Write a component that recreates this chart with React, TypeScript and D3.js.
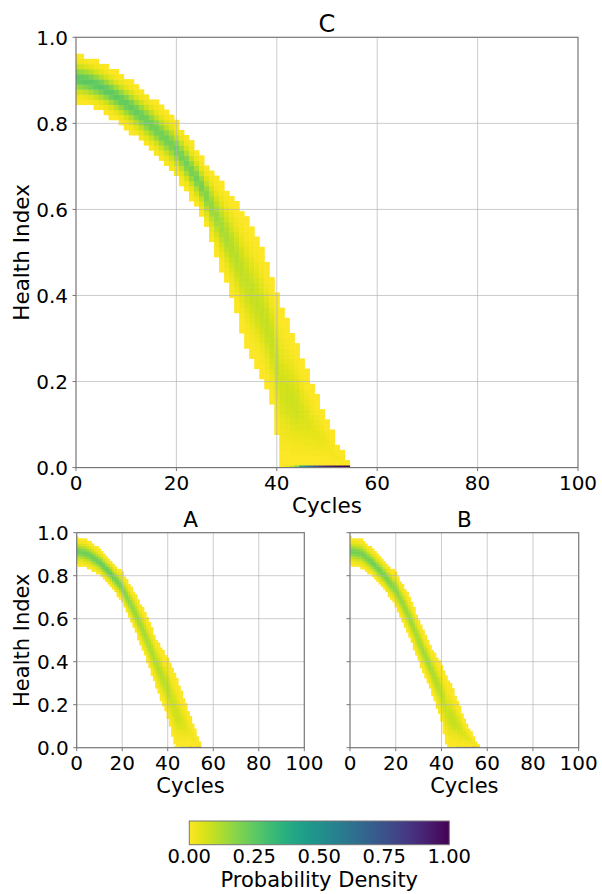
import React from "react";
import * as d3 from "d3";

// tick labels
const X_TICKS = [0, 20, 40, 60, 80, 100];
const Y_TICKS = [0, 0.2, 0.4, 0.6, 0.8, 1.0];
const CBAR_TICKS = [0, 0.25, 0.5, 0.75, 1.0];

// health index bins; the lowest bin straddles 0 so only a sliver of it is visible
const HI_BIN = 0.0118;
const HI_BIN_START = -0.0058;

// per cycle (0, 1, 2, ...): upper / lower edge of the health index band
const C_TOP = [
  0.955, 0.953, 0.95, 0.946, 0.941, 0.935, 0.929, 0.922, 0.915, 0.908,
  0.9, 0.892, 0.883, 0.874, 0.865, 0.855, 0.845, 0.834, 0.823, 0.812,
  0.8, 0.784, 0.768, 0.751, 0.734, 0.717, 0.7, 0.686, 0.671, 0.657,
  0.642, 0.627, 0.611, 0.595, 0.575, 0.553, 0.53, 0.506, 0.475, 0.44,
  0.4, 0.372, 0.343, 0.313, 0.284, 0.252, 0.22, 0.19, 0.163, 0.136,
  0.108, 0.08, 0.054, 0.033, 0.012,
];
const C_BOTTOM = [
  0.855, 0.852, 0.849, 0.845, 0.84, 0.835, 0.828, 0.82, 0.812, 0.803,
  0.794, 0.784, 0.773, 0.762, 0.751, 0.74, 0.728, 0.716, 0.704, 0.692,
  0.68, 0.665, 0.648, 0.63, 0.612, 0.591, 0.563, 0.53, 0.497, 0.465,
  0.433, 0.4, 0.362, 0.323, 0.288, 0.265, 0.24, 0.215, 0.185, 0.15,
  0.08, 0, 0, 0, 0, 0, 0, 0, 0, 0,
  0, 0, 0, 0, 0,
];
// share of runs already sitting at HI = 0
const C_FAIL_CYCLES = [42, 43, 44, 45, 46, 47, 48, 49, 50, 51, 52, 53, 54];
const C_FAIL_SHARE = [0.03, 0.08, 0.18, 0.42, 0.55, 0.68, 0.76, 0.84, 0.9, 0.94, 0.97, 0.98, 0.985];

const A_TOP = [
  0.974, 0.972, 0.97, 0.967, 0.963, 0.958, 0.952, 0.944, 0.936, 0.928,
  0.919, 0.909, 0.898, 0.887, 0.876, 0.865, 0.854, 0.843, 0.832, 0.821,
  0.81, 0.793, 0.776, 0.76, 0.743, 0.726, 0.706, 0.686, 0.666, 0.645,
  0.625, 0.6, 0.575, 0.55, 0.525, 0.5, 0.482, 0.463, 0.445, 0.426,
  0.408, 0.387, 0.366, 0.346, 0.315, 0.284, 0.256, 0.228, 0.2, 0.172,
  0.144, 0.113, 0.082, 0.05, 0.02,
];
const A_BOTTOM = [
  0.857, 0.854, 0.851, 0.848, 0.845, 0.842, 0.836, 0.83, 0.823, 0.817,
  0.81, 0.799, 0.789, 0.778, 0.768, 0.757, 0.742, 0.728, 0.713, 0.697,
  0.68, 0.657, 0.634, 0.61, 0.587, 0.563, 0.537, 0.51, 0.484, 0.457,
  0.431, 0.402, 0.372, 0.343, 0.313, 0.284, 0.256, 0.228, 0.2, 0.172,
  0.144, 0.102, 0.06, 0.02, 0, 0, 0, 0, 0, 0,
  0, 0, 0, 0, 0,
];
const A_FAIL_CYCLES = [43, 44, 45, 46, 47, 48, 49, 50, 51, 52, 53, 54];
const A_FAIL_SHARE = [0.02, 0.06, 0.2, 0.38, 0.55, 0.68, 0.78, 0.85, 0.9, 0.94, 0.97, 0.985];

const B_TOP = [
  0.974, 0.973, 0.971, 0.97, 0.968, 0.966, 0.958, 0.948, 0.938, 0.928,
  0.919, 0.908, 0.897, 0.887, 0.876, 0.865, 0.854, 0.843, 0.832, 0.821,
  0.81, 0.792, 0.773, 0.755, 0.736, 0.718, 0.693, 0.668, 0.644, 0.619,
  0.594, 0.569, 0.544, 0.52, 0.495, 0.47, 0.451, 0.433, 0.414, 0.396,
  0.377, 0.355, 0.333, 0.312, 0.29, 0.268, 0.24, 0.212, 0.184, 0.157,
  0.129, 0.109, 0.089, 0.068, 0.048, 0.028, 0.01,
];
const B_BOTTOM = [
  0.857, 0.854, 0.851, 0.848, 0.845, 0.842, 0.834, 0.826, 0.818, 0.811,
  0.803, 0.791, 0.778, 0.766, 0.753, 0.741, 0.726, 0.71, 0.695, 0.679,
  0.664, 0.641, 0.617, 0.594, 0.57, 0.547, 0.519, 0.491, 0.464, 0.436,
  0.408, 0.383, 0.358, 0.334, 0.309, 0.284, 0.253, 0.222, 0.191, 0.16,
  0.129, 0.075, 0.02, 0, 0, 0, 0, 0, 0, 0,
  0, 0, 0, 0, 0, 0, 0,
];
const B_FAIL_CYCLES = [43, 44, 45, 46, 47, 48, 49, 50, 51, 52, 53, 54, 55, 56];
const B_FAIL_SHARE = [0.02, 0.05, 0.1, 0.2, 0.35, 0.5, 0.62, 0.72, 0.8, 0.86, 0.91, 0.95, 0.98, 0.99];

const FONT = "DejaVu Sans";
const color = (v: number) => d3.interpolateViridis(1 - Math.min(1, v));

function erf(x: number) {
  const s = Math.sign(x);
  const ax = Math.abs(x);
  const t = 1 / (1 + 0.3275911 * ax);
  const y =
    1 -
    ((((1.061405429 * t - 1.453152027) * t + 1.421413741) * t - 0.284496736) * t + 0.254829592) *
      t *
      Math.exp(-ax * ax);
  return s * y;
}
const phi = (z: number) => 0.5 * (1 + erf(z / Math.SQRT2));

// each cycle column is a normalised histogram over health index
function columnCells(top: number[], bottom: number[], failCycles: number[], failShare: number[]) {
  const cells: { t: number; a: number; b: number; v: number }[] = [];
  const nRows = Math.ceil((1 - HI_BIN_START) / HI_BIN);
  top.forEach((U, t) => {
    const L = bottom[t];
    const fi = failCycles.indexOf(t);
    const failed = fi >= 0 ? failShare[fi] : 0;
    const mass = 1 - failed;
    const mid = (U + L) / 2;
    const sd = Math.max((U - L) / 5.5, 0.004);
    const norm = phi((U - mid) / sd) - phi((L - mid) / sd);
    for (let k = 0; k < nRows; k++) {
      const a = HI_BIN_START + k * HI_BIN;
      const b = a + HI_BIN;
      let v = 0;
      const lo = Math.max(a, L);
      const hi = Math.min(b, U);
      if (hi > lo && U > 0) v += (mass * (phi((hi - mid) / sd) - phi((lo - mid) / sd))) / norm;
      if (k === 0) v += failed;
      if (v > 1e-4) cells.push({ t, a, b, v });
    }
  });
  return cells;
}

function Panel(props: any) {
  const { id, left, right, topY, bottomY, title, titleSize, labelSize, top, bottom, failCycles, failShare, yLabels } = props;
  const x = d3.scaleLinear().domain([0, 100]).range([left, right]);
  const y = d3.scaleLinear().domain([0, 1]).range([bottomY, topY]);
  const cells = columnCells(top, bottom, failCycles, failShare);
  const spine = "#777";
  return (
    <g>
      <defs>
        <clipPath id={id}>
          <rect x={left} y={topY} width={right - left} height={bottomY - topY} />
        </clipPath>
      </defs>
      <g clipPath={`url(#${id})`}>
        {cells.map((c, i) => (
          <rect
            key={i}
            x={x(c.t - 0.5)}
            y={y(c.b)}
            width={x(c.t + 0.5) - x(c.t - 0.5) + 0.5}
            height={y(c.a) - y(c.b) + 0.5}
            fill={color(c.v)}
          />
        ))}
      </g>
      {/* grid on top of the cells */}
      <g stroke="#b0b0b0" strokeOpacity={0.65} strokeWidth={1}>
        {X_TICKS.slice(1, -1).map((t) => (
          <line key={"gx" + t} x1={x(t)} x2={x(t)} y1={topY} y2={bottomY} />
        ))}
        {Y_TICKS.slice(1, -1).map((t) => (
          <line key={"gy" + t} x1={left} x2={right} y1={y(t)} y2={y(t)} />
        ))}
      </g>
      <rect x={left} y={topY} width={right - left} height={bottomY - topY} fill="none" stroke={spine} strokeWidth={1.2} />
      <g stroke={spine} strokeWidth={1}>
        {X_TICKS.map((t) => (
          <line key={"tx" + t} x1={x(t)} x2={x(t)} y1={bottomY} y2={bottomY + 3.5} />
        ))}
        {Y_TICKS.map((t) => (
          <line key={"ty" + t} x1={left - 3.5} x2={left} y1={y(t)} y2={y(t)} />
        ))}
      </g>
      <g fontFamily={FONT} fontSize={20} fill="#000">
        {X_TICKS.map((t) => (
          <text key={"lx" + t} x={x(t)} y={bottomY + 22.5} textAnchor="middle">
            {t}
          </text>
        ))}
        {yLabels &&
          Y_TICKS.map((t) => (
            <text key={"ly" + t} x={left - 8} y={y(t) + 7.3} textAnchor="end">
              {t.toFixed(1)}
            </text>
          ))}
      </g>
      <text x={(left + right) / 2} y={topY - 5.5} textAnchor="middle" fontFamily={FONT} fontSize={titleSize}>
        {title}
      </text>
      <text x={(left + right) / 2} y={bottomY + 45.5} textAnchor="middle" fontFamily={FONT} fontSize={labelSize}>
        Cycles
      </text>
      {yLabels && (
        <text
          transform={`translate(29,${(topY + bottomY) / 2}) rotate(-90)`}
          textAnchor="middle"
          fontFamily={FONT}
          fontSize={labelSize}
        >
          Health Index
        </text>
      )}
    </g>
  );
}

function Colorbar() {
  const left = 189.3;
  const right = 449.3;
  const top = 821;
  const height = 23.7;
  const c = d3.scaleLinear().domain([0, 1]).range([left, right]);
  const stops = d3.range(0, 1.0001, 0.05);
  return (
    <g>
      <defs>
        <linearGradient id="cbar" x1="0" x2="1" y1="0" y2="0">
          {stops.map((s) => (
            <stop key={s} offset={s} stopColor={color(s)} />
          ))}
        </linearGradient>
      </defs>
      <rect x={left} y={top} width={right - left} height={height} fill="url(#cbar)" stroke="#777" strokeWidth={1} />
      <g fontFamily={FONT} fontSize={19.5}>
        {CBAR_TICKS.map((t) => (
          <text key={t} x={c(t)} y={863} textAnchor="middle">
            {t.toFixed(2)}
          </text>
        ))}
      </g>
      <text x={(left + right) / 2} y={886.5} textAnchor="middle" fontFamily={FONT} fontSize={21}>
        Probability Density
      </text>
    </g>
  );
}

export default function App() {
  return (
    <svg width={602} height={894} style={{ position: "absolute", left: 0, top: 0, background: "#fff" }}>
      <Panel
        id="clipC"
        left={76}
        right={578}
        topY={37.3}
        bottomY={467.6}
        title="C"
        titleSize={24}
        labelSize={21.5}
        top={C_TOP}
        bottom={C_BOTTOM}
        failCycles={C_FAIL_CYCLES}
        failShare={C_FAIL_SHARE}
        yLabels
      />
      <Panel
        id="clipA"
        left={76.7}
        right={304.3}
        topY={532.7}
        bottomY={747.7}
        title="A"
        titleSize={21.5}
        labelSize={21}
        top={A_TOP}
        bottom={A_BOTTOM}
        failCycles={A_FAIL_CYCLES}
        failShare={A_FAIL_SHARE}
        yLabels
      />
      <Panel
        id="clipB"
        left={350}
        right={578.7}
        topY={532.7}
        bottomY={747.7}
        title="B"
        titleSize={21.5}
        labelSize={21}
        top={B_TOP}
        bottom={B_BOTTOM}
        failCycles={B_FAIL_CYCLES}
        failShare={B_FAIL_SHARE}
        yLabels={false}
      />
      <Colorbar />
    </svg>
  );
}
